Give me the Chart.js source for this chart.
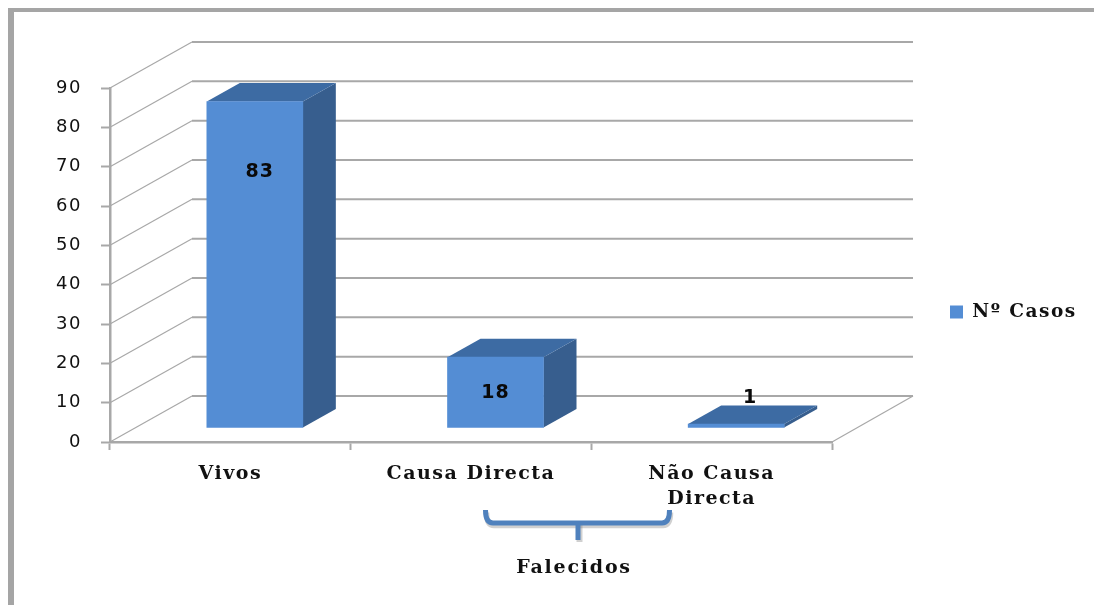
<!DOCTYPE html>
<html><head><meta charset="utf-8">
<style>html,body{margin:0;padding:0;background:#fff;overflow:hidden}canvas{display:block;filter:blur(0.45px)}</style>
<script src="https://cdn.jsdelivr.net/npm/chart.js@4"></script>
</head><body><canvas id="c" width="1094" height="605"></canvas>
<script>
const categories = ['Vivos', 'Causa Directa', ['Não Causa', 'Directa']];
const seriesName = 'Nº Casos';
const casos = [83, 18, 1];
const labelAnchorValues = [65, 9, 7.5];
const labelShiftX = [5, 0, 14];
const groupLabel = 'Falecidos';

const WALL = {dx: 82, dy: 46};
const BAR_FRONT = {dx: 24.5, dy: 14};
const BAR_DEPTH = {dx: 33, dy: 18.5};
const GRID = '#a8a8a8';
const SERIF = '"DejaVu Serif", serif';

function poly(ctx, pts, fill){
  ctx.beginPath();
  pts.forEach((p, i) => i ? ctx.lineTo(p[0], p[1]) : ctx.moveTo(p[0], p[1]));
  ctx.closePath(); ctx.fillStyle = fill; ctx.fill();
}

function bracketPath(ctx){
  ctx.beginPath();
  ctx.moveTo(485.5, 510);
  ctx.quadraticCurveTo(485.5, 523, 493, 523);
  ctx.lineTo(662, 523);
  ctx.quadraticCurveTo(669.5, 523, 669.5, 510);
}

const scene = {
  id: 'scene',
  beforeDraw(chart){
    const ctx = chart.ctx;
    ctx.letterSpacing = '1.5px';
    ctx.save();
    ctx.fillStyle = '#fff'; ctx.fillRect(0, 0, chart.width, chart.height);
    ctx.fillStyle = '#a5a5a5';
    ctx.fillRect(8, 8, chart.width - 8, 4);
    ctx.fillRect(8, 8, 6, chart.height - 8);
    ctx.restore();
  },
  afterLayout(chart){
    const l = chart.legend;
    l.left = 940; l.right = 1094; l.top = 271; l.bottom = 353;
  },
  beforeDatasetsDraw(chart){
    const ctx = chart.ctx, y = chart.scales.y, a = chart.chartArea;
    ctx.save();
    ctx.strokeStyle = GRID;
    y.ticks.forEach(t => {
      const py = y.getPixelForValue(t.value);
      ctx.lineWidth = 1.2;
      ctx.beginPath(); ctx.moveTo(a.left, py); ctx.lineTo(a.left + WALL.dx, py - WALL.dy); ctx.stroke();
      ctx.lineWidth = 2;
      ctx.beginPath(); ctx.moveTo(a.left + WALL.dx, py - WALL.dy); ctx.lineTo(a.right + WALL.dx - 1, py - WALL.dy); ctx.stroke();
    });
    const py0 = y.getPixelForValue(0);
    ctx.lineWidth = 1.2;
    ctx.beginPath(); ctx.moveTo(a.right, py0); ctx.lineTo(a.right + WALL.dx - 1, py0 - WALL.dy); ctx.stroke();
    ctx.restore();

    const meta = chart.getDatasetMeta(0);
    meta.data.forEach(b => {
      const l = b.x - b.width / 2 + BAR_FRONT.dx, r = b.x + b.width / 2 + BAR_FRONT.dx;
      const t = b.y - BAR_FRONT.dy, bot = b.base - BAR_FRONT.dy;
      poly(ctx, [[r, t], [r + BAR_DEPTH.dx, t - BAR_DEPTH.dy], [r + BAR_DEPTH.dx, bot - BAR_DEPTH.dy], [r, bot]], '#375e8e');
      poly(ctx, [[l, t], [l + BAR_DEPTH.dx, t - BAR_DEPTH.dy], [r + BAR_DEPTH.dx, t - BAR_DEPTH.dy], [r, t]], '#3d6ba3');
    });
    ctx.save();
    ctx.translate(BAR_FRONT.dx, -BAR_FRONT.dy);
  },
  afterDatasetsDraw(chart){
    const ctx = chart.ctx, y = chart.scales.y;
    ctx.restore();
    ctx.save();
    ctx.font = 'bold 19px "DejaVu Sans", sans-serif';
    ctx.letterSpacing = '1px';
    ctx.fillStyle = '#0a0a0a'; ctx.textAlign = 'center'; ctx.textBaseline = 'middle';
    chart.getDatasetMeta(0).data.forEach((b, i) => {
      ctx.fillText(String(casos[i]), b.x + BAR_FRONT.dx + labelShiftX[i], y.getPixelForValue(labelAnchorValues[i]) - BAR_FRONT.dy);
    });
    ctx.restore();

    ctx.save();
    ctx.lineCap = 'butt';
    ctx.strokeStyle = 'rgba(120,120,120,0.35)'; ctx.lineWidth = 5.5;
    ctx.translate(1, 2.5);
    bracketPath(ctx); ctx.stroke();
    ctx.translate(-1, -2.5);
    ctx.fillStyle = 'rgba(120,120,120,0.35)';
    ctx.fillRect(576.5, 525, 6, 17);
    ctx.strokeStyle = '#4f81bd'; ctx.lineWidth = 5;
    bracketPath(ctx); ctx.stroke();
    ctx.fillStyle = '#4f81bd';
    ctx.fillRect(575.5, 523, 5, 17);
    ctx.restore();

    ctx.save();
    ctx.font = 'bold 19px ' + SERIF;
    ctx.letterSpacing = '1.8px';
    ctx.fillStyle = '#111'; ctx.textAlign = 'center'; ctx.textBaseline = 'middle';
    ctx.fillText(groupLabel, 574, 568);
    ctx.restore();
  }
};

const chart = new Chart(document.getElementById('c'), {
  type: 'bar',
  data: {
    labels: categories,
    datasets: [{label: seriesName, data: casos, backgroundColor: '#548dd4', borderWidth: 0, barThickness: 96}]
  },
  plugins: [scene],
  options: {
    responsive: false,
    animation: false,
    layout: {padding: {left: 50, top: 88, right: 0, bottom: 0}},
    plugins: {
      tooltip: {enabled: false},
      legend: {
        position: 'right', align: 'center',
        labels: {boxWidth: 13, boxHeight: 13, padding: 10, color: '#111', font: {family: SERIF, weight: 'bold', size: 18.5}}
      }
    },
    scales: {
      x: {
        offset: true,
        afterFit(s){ s.height = 605 - 442; },
        grid: {drawOnChartArea: false, drawTicks: true, tickLength: 8, tickWidth: 2, tickColor: GRID},
        border: {color: GRID, width: 2.5},
        ticks: {maxRotation: 0, autoSkip: false, padding: 12, color: '#111', font: {family: SERIF, weight: 'bold', size: 19, lineHeight: 1.31}}
      },
      y: {
        min: 0, max: 90,
        afterFit(s){ s.width = 60; },
        grid: {drawOnChartArea: false, drawTicks: true, tickLength: 9, tickWidth: 2, tickColor: GRID},
        border: {color: GRID, width: 2.5},
        ticks: {stepSize: 10, padding: 19, color: '#111', font: {family: '"DejaVu Sans", sans-serif', size: 18}}
      }
    }
  }
});
const baseFit = chart.legend.fit;
chart.legend.fit = function(){ baseFit.call(this); this.width = 262; };
chart.update();
</script>
</body></html>
